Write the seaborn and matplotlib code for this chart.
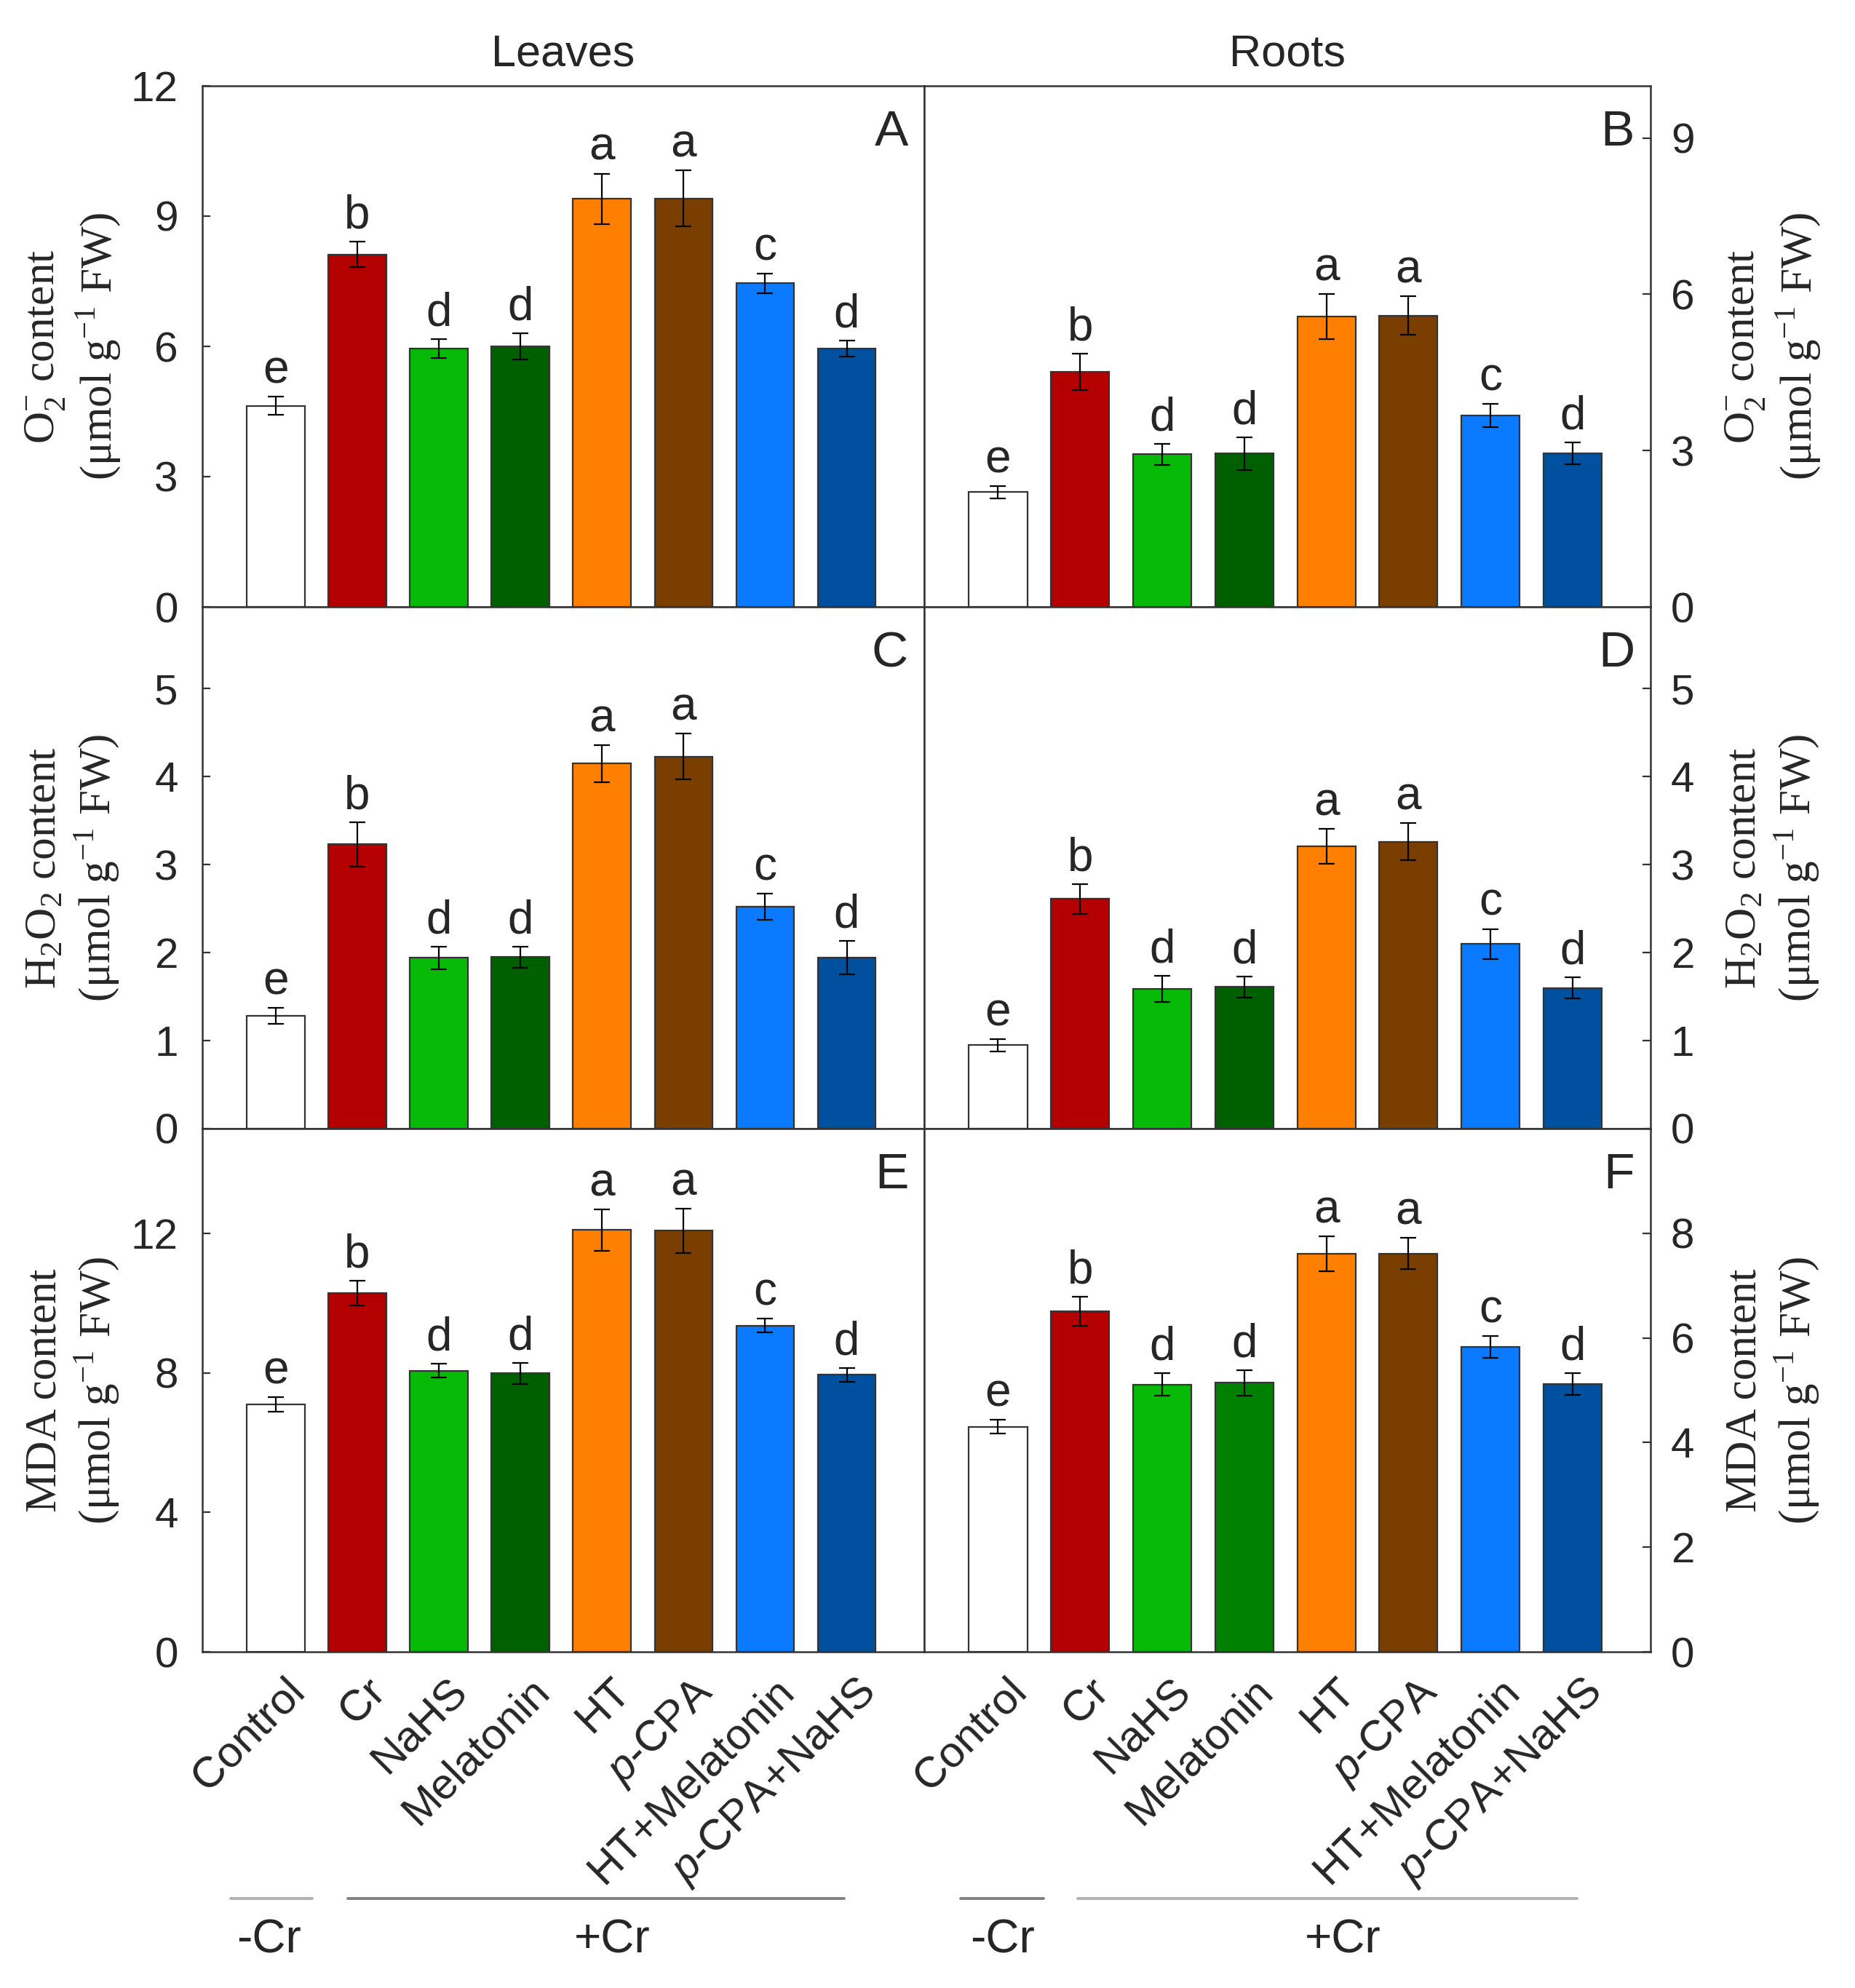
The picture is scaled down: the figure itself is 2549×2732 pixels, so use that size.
import matplotlib
matplotlib.use("Agg")
import matplotlib.pyplot as plt
import matplotlib.transforms as mtransforms
import pandas as pd
import seaborn as sns

sns.set_style("white")
plt.rcParams["font.family"] = ["Liberation Sans", "DejaVu Sans"]
plt.rcParams["mathtext.fontset"] = "custom"
plt.rcParams["mathtext.rm"] = "Liberation Serif"
plt.rcParams["mathtext.it"] = "Liberation Sans:italic"

# ---- data ----
treatments = ["Control", "Cr", "NaHS", "Melatonin", "HT", "p-CPA", "HT+Melatonin", "p-CPA+NaHS"]
tick_labels = ["Control", "Cr", "NaHS", "Melatonin", "HT", r"$\mathit{p}$-CPA",
               "HT+Melatonin", r"$\mathit{p}$-CPA+NaHS"]
letters = ["e", "b", "d", "d", "a", "a", "c", "d"]

leaf_o2 = [4.63, 8.12, 5.95, 6.00, 9.40, 9.41, 7.45, 5.95]
leaf_o2_se = [0.21, 0.29, 0.22, 0.30, 0.58, 0.64, 0.22, 0.19]
root_o2 = [2.20, 4.51, 2.93, 2.94, 5.57, 5.59, 3.67, 2.95]
root_o2_se = [0.12, 0.35, 0.20, 0.31, 0.43, 0.37, 0.22, 0.21]

leaf_h2o2 = [1.28, 3.23, 1.94, 1.95, 4.15, 4.23, 2.52, 1.94]
leaf_h2o2_se = [0.09, 0.25, 0.13, 0.12, 0.21, 0.26, 0.15, 0.19]
root_h2o2 = [0.95, 2.61, 1.59, 1.61, 3.21, 3.26, 2.10, 1.60]
root_h2o2_se = [0.07, 0.17, 0.15, 0.12, 0.20, 0.21, 0.17, 0.12]

leaf_mda = [7.09, 10.29, 8.06, 7.98, 12.09, 12.07, 9.35, 7.94]
leaf_mda_se = [0.21, 0.35, 0.20, 0.30, 0.60, 0.64, 0.20, 0.20]
root_mda = [4.30, 6.51, 5.11, 5.14, 7.61, 7.61, 5.83, 5.12]
root_mda_se = [0.13, 0.28, 0.21, 0.24, 0.33, 0.30, 0.21, 0.21]

colors = ["#FFFFFF", "#B40000", "#08BA08", "#006000", "#FF8000", "#7A3F00", "#0A7BFF", "#0050A0"]
colors_f = ["#FFFFFF", "#B40000", "#08BA08", "#008000", "#FF8000", "#7A3F00", "#0A7BFF", "#0050A0"]

o2_label = "O$_2^{-}$ content\n(μmol g$^{-1}$ FW)"
h2o2_label = "H$_2$O$_2$ content\n(μmol g$^{-1}$ FW)"
mda_label = "MDA content\n(μmol g$^{-1}$ FW)"

panels = [
    # letter, values, se, ylim, ticks, side, ylabel, palette
    ("A", leaf_o2, leaf_o2_se, 12, [0, 3, 6, 9, 12], "left", o2_label, colors),
    ("B", root_o2, root_o2_se, 10, [0, 3, 6, 9], "right", o2_label, colors),
    ("C", leaf_h2o2, leaf_h2o2_se, 5.93, [0, 1, 2, 3, 4, 5], "left", h2o2_label, colors),
    ("D", root_h2o2, root_h2o2_se, 5.93, [0, 1, 2, 3, 4, 5], "right", h2o2_label, colors),
    ("E", leaf_mda, leaf_mda_se, 15, [0, 4, 8, 12], "left", mda_label, colors),
    ("F", root_mda, root_mda_se, 10, [0, 2, 4, 6, 8], "right", mda_label, colors_f),
]

W, H = 2549, 2732
fig = plt.figure(figsize=(W / 200, H / 200), dpi=200)

col_x = {"left": (278, 992), "right": (1270, 998)}
row_y = [(118, 834), (834, 1551), (1551, 2270)]

spine_color = "#333333"
axes = []
for k, (tag, vals, se, ytop, ticks, side, ylab, pal) in enumerate(panels):
    r = k // 2
    x0, w = col_x[side]
    yt, yb = row_y[r]
    ax = fig.add_axes([x0 / W, 1 - yb / H, w / W, (yb - yt) / H])
    axes.append(ax)

    df = pd.DataFrame({"Treatment": treatments, "Value": vals})
    sns.barplot(data=df, x="Treatment", y="Value", hue="Treatment",
                palette=dict(zip(treatments, pal)), order=treatments,
                hue_order=treatments, legend=False, width=0.71, saturation=1,
                edgecolor="#333333", linewidth=0.8, errorbar=None, ax=ax)
    ax.errorbar(range(len(treatments)), vals, yerr=se, fmt="none",
                ecolor="black", elinewidth=0.8, capsize=4, capthick=0.8)
    for i, (v, e, let) in enumerate(zip(vals, se, letters)):
        ax.annotate(let, (i, v + e), xytext=(0, 2), textcoords="offset points",
                    ha="center", va="bottom", fontsize=23)

    ax.set_xlim(-0.9, 7.95)
    ax.set_ylim(0, ytop)
    ax.set_yticks(ticks)
    ax.set_xlabel("")
    ax.set_ylabel("")
    for s in ax.spines.values():
        s.set_visible(True)
        s.set_color(spine_color)
        s.set_linewidth(0.9)

    if side == "left":
        ax.tick_params(axis="y", direction="in", length=4, width=0.8, color=spine_color,
                       left=True, right=False, labelleft=True, labelright=False,
                       labelsize=21, pad=12)
        fig.text(100 / W, 1 - (yt + yb) / 2 / H, ylab, rotation=90, ha="center",
                 va="center", multialignment="center", fontsize=22,
                 family="Liberation Serif")
    else:
        ax.yaxis.tick_right()
        ax.tick_params(axis="y", direction="in", length=4, width=0.8, color=spine_color,
                       left=False, right=True, labelleft=False, labelright=True,
                       labelsize=21, pad=10)
        fig.text(2436 / W, 1 - (yt + yb) / 2 / H, ylab, rotation=90, ha="center",
                 va="center", multialignment="center", fontsize=22,
                 family="Liberation Serif")

    ax.text(0.978, 0.955, tag, transform=ax.transAxes, ha="right", va="top", fontsize=25)

    if r < 2:
        ax.tick_params(axis="x", bottom=False, labelbottom=False)
    else:
        ax.tick_params(axis="x", bottom=False, labelbottom=True, pad=6)
        ax.set_xticks(range(len(treatments)))
        ax.set_xticklabels(tick_labels, rotation=45, ha="right", va="top",
                           rotation_mode="anchor", fontsize=21.5)
        shift = mtransforms.ScaledTranslation(4 / 72, 0, fig.dpi_scale_trans)
        for lab in ax.get_xticklabels():
            lab.set_transform(lab.get_transform() + shift)

axes[0].set_title("Leaves", fontsize=22, pad=10)
axes[1].set_title("Roots", fontsize=22, pad=10)

# -Cr / +Cr group brackets under the bottom panels
brackets = [
    (axes[4], (-0.55, 0.45), (0.88, 6.97), -0.08, 4.12, ("#b0b0b0", "#808080")),
    (axes[5], (-0.46, 0.55), (0.97, 7.05), 0.05, 4.20, ("#808080", "#b0b0b0")),
]
for ax, minus_span, plus_span, minus_x, plus_x, (c1, c2) in brackets:
    trans = mtransforms.blended_transform_factory(ax.transData, fig.transFigure)
    ax.plot(minus_span, [0.045, 0.045], color=c1, lw=1.4, transform=trans,
            clip_on=False)
    ax.plot(plus_span, [0.045, 0.045], color=c2, lw=1.4, transform=trans,
            clip_on=False)
    ax.text(minus_x, 0.024, "-Cr", transform=trans, ha="center", va="center", fontsize=23)
    ax.text(plus_x, 0.024, "+Cr", transform=trans, ha="center", va="center", fontsize=23)

fig.savefig("out.png", dpi=200)
